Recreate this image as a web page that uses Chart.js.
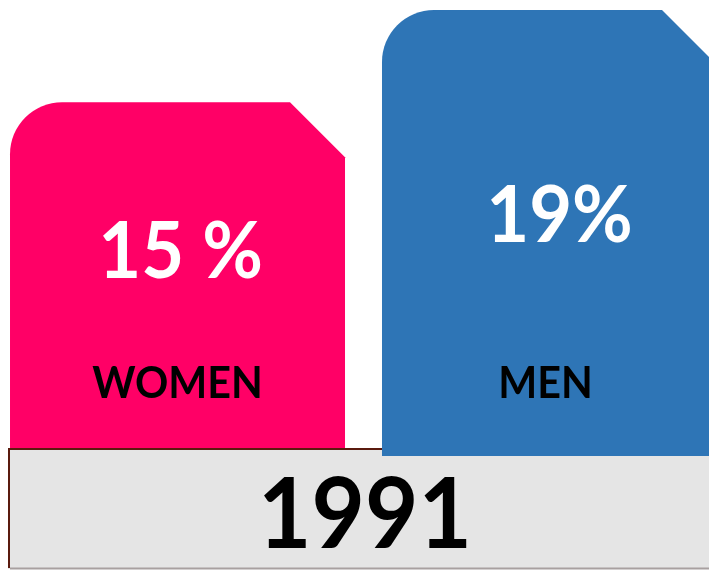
<!DOCTYPE html>
<html>
<head>
<meta charset="utf-8">
<script src="https://cdn.jsdelivr.net/npm/chart.js@4/dist/chart.umd.min.js"></script>
<style>
html,body{margin:0;padding:0;background:#fff;overflow:hidden;}
canvas{display:block;}
</style>
</head>
<body>
<canvas id="c" width="709" height="570"></canvas>
<script>
// ---- data ----
const categories = ['WOMEN', 'MEN'];
const values = [15, 19];
const valueLabels = ['15 %', '19%'];
const yearLabel = '1991';
const barColors = ['#FF0066', '#2E75B6'];

const FONT = 'Lato, "Open Sans", sans-serif';

function condensedText(ctx, text, x, y, sx) {
  ctx.save();
  ctx.translate(x, y);
  ctx.scale(sx, 1);
  ctx.fillText(text, 0, 0);
  ctx.restore();
}

const shapePlugin = {
  id: 'shapes',
  afterDatasetsDraw(chart) {
    const ctx = chart.ctx;
    const meta = chart.getDatasetMeta(0);
    const els = meta.data;
    const r = 52, cut = 55, extra = 8;
    function drawBar(el, color) {
      const w = el.width;
      const L = el.x - w / 2, R = el.x + w / 2, T = el.y, B = el.base + extra;
      ctx.save();
      ctx.beginPath();
      ctx.moveTo(L, B);
      ctx.lineTo(L, T + r);
      ctx.arcTo(L, T, L + r, T, r);
      ctx.lineTo(R - cut, T);
      ctx.lineTo(R, T + cut);
      ctx.lineTo(R, B);
      ctx.closePath();
      ctx.fillStyle = color;
      ctx.fill();
      ctx.restore();
    }
    const base = els[0].base;
    drawBar(els[0], barColors[0]);
    // year box
    ctx.save();
    const bx = 8, by = base, bw = 720, bh = chart.height - base - 1;
    ctx.fillStyle = '#E5E5E5';
    ctx.fillRect(bx, by, bw, bh);
    ctx.lineWidth = 2;
    ctx.strokeStyle = '#5A1A0E';
    ctx.beginPath();
    ctx.moveTo(bx + 1, chart.height - 2);
    ctx.lineTo(bx + 1, by + 1);
    ctx.lineTo(bx + bw, by + 1);
    ctx.stroke();
    ctx.strokeStyle = '#A8A0A0';
    ctx.beginPath();
    ctx.moveTo(bx + 2, chart.height - 1.5);
    ctx.lineTo(bx + bw, chart.height - 1.5);
    ctx.stroke();
    ctx.restore();
    drawBar(els[1], barColors[1]);

    // texts
    const valueDx = [3, 10];
    const valueBaseline = [170, 206];
    ctx.save();
    ctx.textAlign = 'center';
    ctx.textBaseline = 'alphabetic';
    els.forEach((el, i) => {
      ctx.fillStyle = '#FFFFFF';
      ctx.font = 'bold 78px ' + FONT;
      condensedText(ctx, valueLabels[i], el.x + valueDx[i], base - valueBaseline[i], 0.95);
      ctx.fillStyle = '#000000';
      ctx.font = 'bold 43px ' + FONT;
      condensedText(ctx, categories[i], el.x + (i === 1 ? -4 : 0), base - 50, 0.96);
    });
    ctx.fillStyle = '#000000';
    ctx.font = 'bold 97px ' + FONT;
    condensedText(ctx, yearLabel, 365, base + 100, 0.95);
    ctx.restore();
  }
};

new Chart(document.getElementById('c'), {
  type: 'bar',
  data: {
    datasets: [{
      data: values.map((v, i) => ({ x: i, y: v })),
      backgroundColor: 'rgba(0,0,0,0)',
      barThickness: 335
    }]
  },
  options: {
    responsive: false,
    animation: false,
    devicePixelRatio: 1,
    layout: { padding: { top: 10, bottom: 122, left: 0, right: 0 } },
    plugins: { legend: { display: false }, tooltip: { enabled: false } },
    scales: {
      x: { type: 'linear', display: false, min: -0.4772, max: 1.4288, offset: false, grid: { display: false } },
      y: { display: false, min: 0, max: 19, grid: { display: false } }
    }
  },
  plugins: [shapePlugin]
});
</script>
</body>
</html>
